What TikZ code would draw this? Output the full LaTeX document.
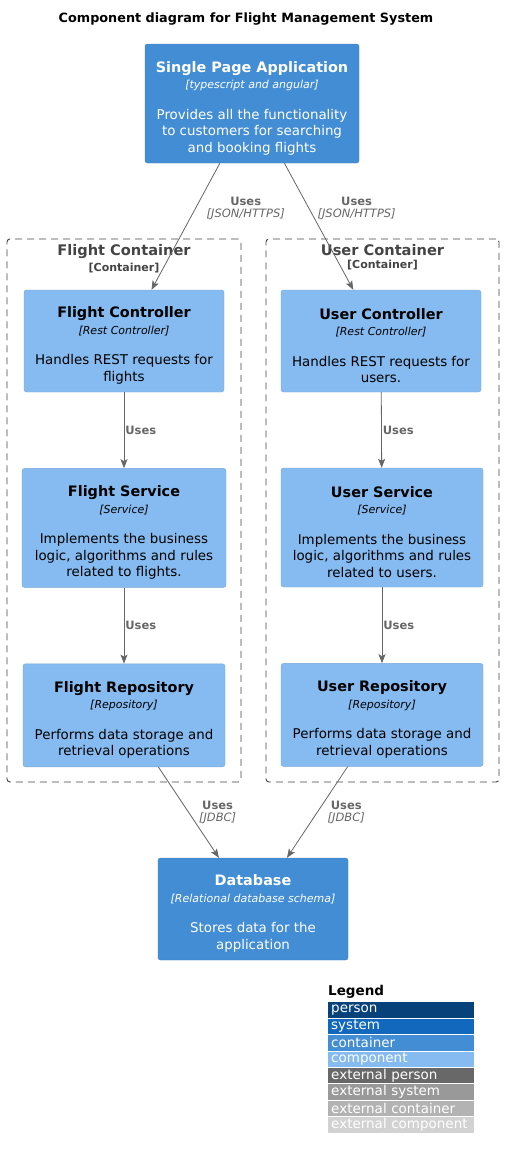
\documentclass[tikz,border=0pt]{standalone}
\usepackage{fontspec}
\setmainfont{DejaVu Sans}
\usetikzlibrary{arrows.meta,positioning}

\definecolor{c4person}{HTML}{08427B}
\definecolor{c4system}{HTML}{1168BD}
\definecolor{c4container}{HTML}{438DD5}
\definecolor{c4containerline}{HTML}{3C7FC0}
\definecolor{c4component}{HTML}{85BBF0}
\definecolor{c4componentline}{HTML}{78A8D8}
\definecolor{c4extperson}{HTML}{686868}
\definecolor{c4extsystem}{HTML}{999999}
\definecolor{c4extcontainer}{HTML}{B3B3B3}
\definecolor{c4extcomponent}{HTML}{D2D2D2}
\definecolor{c4rel}{HTML}{666666}
\definecolor{c4boundary}{HTML}{444444}

% title, technology, description of one element
\newcommand{\elemtext}[3]{{\fontsize{14.4}{17}\selectfont\bfseries\rule{0pt}{20pt}#1}\\{\fontsize{11}{15}\selectfont\itshape [#2]}\\[14pt]#3}
\newcommand{\reltext}[2]{{\fontsize{11.5}{14}\selectfont\bfseries #1}\\{\fontsize{11.5}{13.5}\selectfont\itshape [#2]}}

\begin{document}
\begin{tikzpicture}[
    x=1pt, y=-1pt,
    element/.style={rectangle, rounded corners=2.5pt, align=center, inner sep=0pt, font=\fontsize{13.4}{16.5}\selectfont},
    container/.style={element, draw=c4containerline, fill=c4container, text=white},
    component/.style={element, draw=c4componentline, fill=c4component, text=black, minimum width=202pt},
    boundary/.style={rectangle, draw=c4boundary, line width=0.9pt, dash pattern=on 7pt off 5pt, rounded corners=3pt, minimum width=234pt, minimum height=543pt, inner sep=0pt},
    btitle/.style={text=c4boundary, font=\bfseries\fontsize{14.6}{17}\selectfont, inner sep=0pt},
    bsub/.style={text=c4boundary, font=\bfseries\fontsize{11}{13}\selectfont, inner sep=0pt},
    rel/.style={draw=c4rel, line width=0.8pt, -{Stealth[length=9pt, width=7pt, inset=2pt]}},
    rellabel/.style={text=c4rel, align=center, inner sep=0pt, anchor=west},
    legendrow/.style={rectangle, text=white, text width=140pt, align=left, inner xsep=3pt, inner ysep=0pt, minimum height=15.5pt, anchor=north west, font=\fontsize{13.5}{15}\selectfont}
]
\useasboundingbox (0,0) rectangle (504,1159);

% Title
\node[font=\bfseries\fontsize{12.8}{15}\selectfont, inner sep=0pt] (title) at (246,19) {Component diagram for Flight Management System};

% Single page application
\node[container, minimum width=214pt, minimum height=119pt] (spa) at (252,103.5)
    {\elemtext{Single Page Application}{typescript and angular}{Provides all the functionality\\to customers for searching\\and booking flights}};

% Boundaries
\node[boundary] (flight-box) at (124,510.5) {};
\node[btitle, below=6pt of flight-box.north] (flight-box-title) {Flight Container};
\node[bsub, below=4pt of flight-box-title] {[Container]};

\node[boundary, minimum width=233pt] (user-box) at (382.5,510.5) {};
\node[btitle, below=6pt of user-box.north] (user-box-title) {User Container};
\node[bsub, below=4pt of user-box-title] {[Container]};

% Flight components
\node[component, minimum width=200pt, minimum height=102pt] (flight-ctrl) at (124,341)
    {\elemtext{Flight Controller}{Rest Controller}{Handles REST requests for\\flights}};
\node[component, minimum width=204pt, minimum height=119pt, below=76pt of flight-ctrl] (flight-svc)
    {\elemtext{Flight Service}{Service}{Implements the business\\logic, algorithms and rules\\related to flights.}};
\node[component, minimum height=103pt, below=76pt of flight-svc] (flight-repo)
    {\elemtext{Flight Repository}{Repository}{Performs data storage and\\retrieval operations}};

% User components
\node[component, minimum width=200pt, minimum height=102pt] (user-ctrl) at (381,341)
    {\elemtext{User Controller}{Rest Controller}{Handles REST requests for\\users.}};
\node[component, minimum height=119pt] (user-svc) at (382,527.5)
    {\elemtext{User Service}{Service}{Implements the business\\logic, algorithms and rules\\related to users.}};
\node[component, minimum height=103pt, below=76pt of user-svc] (user-repo)
    {\elemtext{User Repository}{Repository}{Performs data storage and\\retrieval operations}};

% Database
\node[container, minimum width=190pt, minimum height=102pt] (db) at (253,909)
    {\elemtext{Database}{Relational database schema}{Stores data for the\\application}};

% Relations
\draw[rel] (spa) -- node[rellabel, pos=0.36, xshift=11pt] {\reltext{Uses}{JSON/HTTPS}} (flight-ctrl);
\draw[rel] (spa) -- node[rellabel, pos=0.36, xshift=8pt] {\reltext{Uses}{JSON/HTTPS}} (user-ctrl);
\draw[rel] (flight-ctrl) -- node[rellabel, xshift=1pt, font=\bfseries\fontsize{11.5}{14}\selectfont] {Uses} (flight-svc);
\draw[rel] (flight-svc) -- node[rellabel, xshift=1pt, font=\bfseries\fontsize{11.5}{14}\selectfont] {Uses} (flight-repo);
\draw[rel] (user-ctrl) -- node[rellabel, xshift=1pt, font=\bfseries\fontsize{11.5}{14}\selectfont] {Uses} (user-svc);
\draw[rel] (user-svc) -- node[rellabel, xshift=1pt, font=\bfseries\fontsize{11.5}{14}\selectfont] {Uses} (user-repo);
\draw[rel] (flight-repo) -- node[rellabel, pos=0.5, xshift=10pt] {\reltext{Uses}{JDBC}} (db);
\draw[rel] (user-repo) -- node[rellabel, pos=0.5, xshift=10pt] {\reltext{Uses}{JDBC}} (db);

% Legend
\node[font=\bfseries\fontsize{13.5}{16}\selectfont, anchor=south west, inner sep=0pt] (legend-title) at (328,999) {Legend};
\foreach \i/\txt/\col in {0/person/c4person, 1/system/c4system, 2/container/c4container, 3/component/c4component,
    4/external person/c4extperson, 5/external system/c4extsystem, 6/external container/c4extcontainer, 7/external component/c4extcomponent} {
    \node[legendrow, fill=\col] (legend-\i) at (328,1002+\i*16.43) {\txt};
}

\end{tikzpicture}
\end{document}
